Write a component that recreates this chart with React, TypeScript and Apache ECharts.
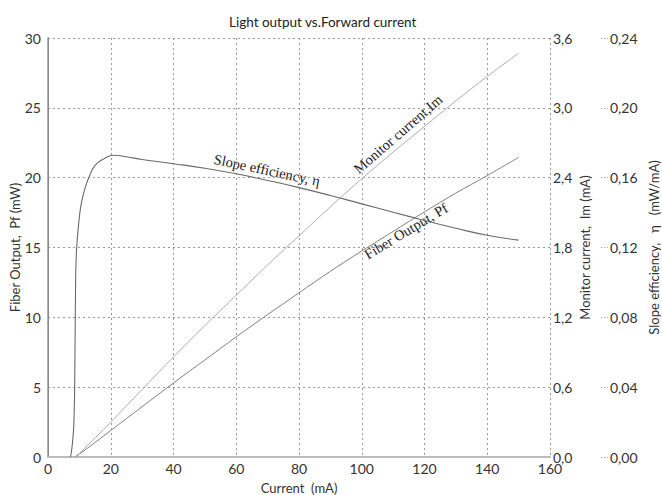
import React, { useEffect, useRef } from "react";
import * as echarts from "echarts";

const xTicks = [0, 20, 40, 60, 80, 100, 120, 140, 160];
const currentMA = [8.5, 10, 20, 30, 40, 50, 60, 70, 80, 90, 100, 110, 120, 130, 140, 150];
const fiberOutputMW = [0, 0.2, 1.9, 3.6, 5.3, 6.95, 8.6, 10.2, 11.75, 13.3, 14.75, 16.15, 17.55, 18.9, 20.15, 21.45];
const monitorCurrentMA = [0, 0.03, 0.3, 0.58, 0.86, 1.13, 1.39, 1.65, 1.9, 2.15, 2.39, 2.62, 2.84, 3.06, 3.27, 3.47];
const etaCurrentMA = [7.2, 7.8, 8.3, 8.6, 8.8, 9.0, 9.3, 9.8, 10.4, 11.2, 12, 13, 15, 18, 21, 25, 30, 40, 50, 60, 70, 80, 90, 100, 110, 120, 130, 140, 150];
const slopeEfficiency = [0, 0.008, 0.022, 0.06, 0.1, 0.115, 0.124, 0.134, 0.143, 0.15, 0.155, 0.16, 0.167, 0.171, 0.1728, 0.172, 0.1704, 0.168, 0.1654, 0.1622, 0.1584, 0.1543, 0.1498, 0.145, 0.1402, 0.1355, 0.131, 0.127, 0.1242];

const FONT = "Lato";
const SERIF = "Liberation Serif";

export default function App() {
  const ref = useRef<HTMLDivElement>(null);
  useEffect(() => {
    if (!ref.current) return;
    const chart = echarts.init(ref.current, null, { renderer: "svg" });
    const pf = currentMA.map((c, i) => [c, fiberOutputMW[i]]);
    const im = currentMA.map((c, i) => [c, monitorCurrentMA[i]]);
    const eta = etaCurrentMA.map((c, i) => [c, slopeEfficiency[i]]);
    const labelStyle = { color: "#333", fontFamily: FONT, fontSize: 14 };
    chart.setOption({
      animation: false,
      backgroundColor: "#fff",
      title: {
        text: "Light output vs.Forward current",
        left: 224,
        top: 10,
        textStyle: { fontFamily: FONT, fontSize: 13.5, fontWeight: "normal", color: "#222" },
      },
      grid: { left: 48, right: 112, top: 38, bottom: 38, containLabel: false, outerBoundsMode: "none" },
      xAxis: [
        {
          type: "value",
          min: xTicks[0],
          max: xTicks[xTicks.length - 1],
          interval: 20,
          name: "Current  (mA)",
          nameLocation: "middle",
          nameGap: 24,
          nameMoveOverlap: false,
          nameTextStyle: { fontFamily: FONT, fontSize: 13, color: "#333" },
          axisLine: { show: false },
          axisTick: { show: false },
          axisLabel: { ...labelStyle, margin: 4 },
          splitLine: { show: true, lineStyle: { type: [2, 3], color: "#999", width: 1 } },
        },
        {
          type: "value",
          position: "top",
          min: 0,
          max: 160,
          axisLine: { show: true, lineStyle: { color: "#bbb", width: 2 } },
          axisTick: { show: false },
          axisLabel: { show: false },
          splitLine: { show: false },
        },
      ],
      yAxis: [
        {
          type: "value",
          min: 0,
          max: 30,
          interval: 5,
          position: "left",
          name: "Fiber Output,  Pf (mW)",
          nameLocation: "middle",
          nameGap: 27,
          nameMoveOverlap: false,
          nameRotate: 90,
          nameTextStyle: { fontFamily: FONT, fontSize: 13, color: "#333" },
          axisLine: { show: true, lineStyle: { color: "#666", width: 1 } },
          axisTick: { show: false },
          axisLabel: { ...labelStyle, margin: 7 },
          splitLine: { show: true, lineStyle: { type: [2, 3], color: "#999", width: 1 } },
        },
        {
          type: "value",
          min: 0,
          max: 3.6,
          interval: 0.6,
          position: "right",
          name: "Monitor current,  Im (mA)",
          nameLocation: "middle",
          nameGap: 28,
          nameMoveOverlap: false,
          nameRotate: 90,
          nameTextStyle: { fontFamily: FONT, fontSize: 13, color: "#333" },
          axisLine: { show: true, lineStyle: { color: "#999", width: 1.5 } },
          axisTick: { show: false },
          axisLabel: {
            ...labelStyle,
            margin: 3,
            formatter: (v: number) => v.toFixed(1).replace(".", ","),
          },
          splitLine: { show: false },
        },
        {
          type: "value",
          min: 0,
          max: 0.24,
          interval: 0.04,
          position: "right",
          offset: 51,
          name: "Slope efficiency,   η   (mW/mA)",
          nameLocation: "middle",
          nameGap: 46,
          nameMoveOverlap: false,
          nameRotate: 90,
          nameTextStyle: { fontFamily: FONT, fontSize: 13, color: "#333" },
          axisLine: { show: false },
          axisTick: { show: true, length: 7, lineStyle: { type: [1, 2], color: "#999" } },
          axisLabel: {
            ...labelStyle,
            margin: 9,
            formatter: (v: number) => v.toFixed(2).replace(".", ","),
          },
          splitLine: { show: false },
        },
      ],
      graphic: [
        {
          type: "text",
          x: 398,
          y: 134,
          rotation: (41 * Math.PI) / 180,
          style: {
            text: "Monitor current,Im",
            fontFamily: SERIF,
            fontSize: 14.5,
            fill: "#222",
            align: "center",
            verticalAlign: "middle",
          },
        },
        {
          type: "text",
          x: 267,
          y: 170,
          rotation: (-12 * Math.PI) / 180,
          style: {
            text: "Slope efficiency, η",
            fontFamily: SERIF,
            fontSize: 14.5,
            fill: "#222",
            align: "center",
            verticalAlign: "middle",
          },
        },
        {
          type: "text",
          x: 406,
          y: 231,
          rotation: (31 * Math.PI) / 180,
          style: {
            text: "Fiber Output, Pf",
            fontFamily: SERIF,
            fontSize: 14.5,
            fill: "#222",
            align: "center",
            verticalAlign: "middle",
          },
        },
      ],
      series: [
        {
          name: "Fiber Output",
          type: "line",
          xAxisIndex: 0,
          yAxisIndex: 0,
          data: pf,
          smooth: 0.3,
          showSymbol: false,
          lineStyle: { color: "#808080", width: 1 },
        },
        {
          name: "Monitor current",
          type: "line",
          xAxisIndex: 0,
          yAxisIndex: 1,
          data: im,
          smooth: 0.3,
          showSymbol: false,
          lineStyle: { color: "#acacac", width: 1 },
        },
        {
          name: "Slope efficiency",
          type: "line",
          xAxisIndex: 0,
          yAxisIndex: 2,
          data: eta,
          smooth: 0.5,
          showSymbol: false,
          lineStyle: { color: "#6a6a6a", width: 1.1 },
        },
      ],
    });
    return () => chart.dispose();
  }, []);
  return (
    <div
      ref={ref}
      style={{ position: "fixed", left: 0, top: 0, width: 662, height: 495 }}
    />
  );
}
